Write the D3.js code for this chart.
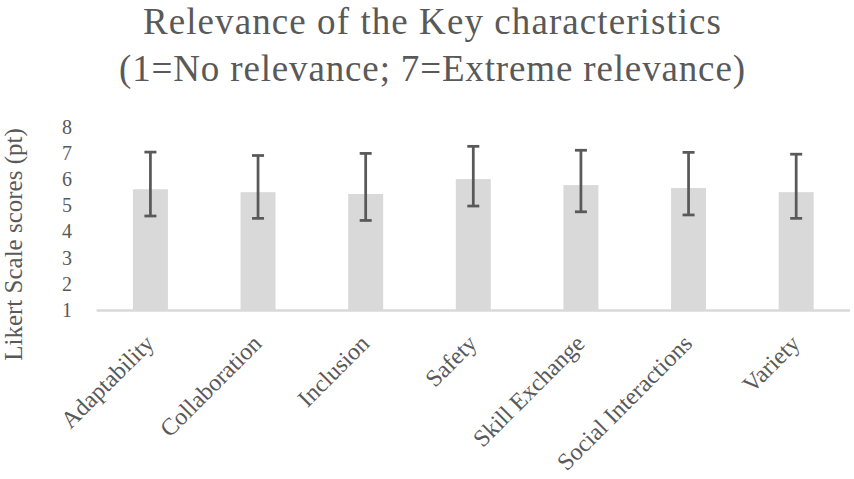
<!DOCTYPE html>
<html>
<head>
<meta charset="utf-8">
<script src="https://cdn.jsdelivr.net/npm/d3@7"></script>
<style>
html,body{margin:0;padding:0;background:#fff;}
svg{display:block;}
</style>
</head>
<body>
<svg id="chart" width="854" height="479"></svg>
<script>
const categories = ["Adaptability","Collaboration","Inclusion","Safety","Skill Exchange","Social Interactions","Variety"];
const means = [5.61, 5.50, 5.43, 6.00, 5.77, 5.66, 5.50];
const errUpper = [7.03, 6.90, 6.98, 7.25, 7.10, 7.02, 6.95];
const errLower = [4.59, 4.50, 4.42, 4.97, 4.75, 4.63, 4.50];
const yTicks = [1,2,3,4,5,6,7,8];
const titleLines = ["Relevance of the Key characteristics","(1=No relevance; 7=Extreme relevance)"];
const yTitle = "Likert Scale scores (pt)";

const font = "'Liberation Serif', 'DejaVu Serif', serif";
const textColor = "#595959";
const svg = d3.select("#chart");

const x = d3.scaleBand().domain(categories).range([96.6, 850]).paddingInner(0.675).paddingOuter(0.3375);
const y = d3.scaleLinear().domain([1, 8]).range([310, 126.7]);

// title
const titleWidths = [578, 626];
svg.append("g").selectAll("text").data(titleLines).join("text")
  .attr("x", 432).attr("y", (d,i)=> 34 + i*47)
  .attr("text-anchor","middle")
  .attr("font-family", font).attr("font-size", 37).attr("fill", textColor)
  .attr("textLength", (d,i)=>titleWidths[i]).attr("lengthAdjust","spacing")
  .text(d=>d);

// y title
svg.append("text")
  .attr("transform","translate(22,244.5) rotate(-90)")
  .attr("text-anchor","middle")
  .attr("font-family", font).attr("font-size", 25).attr("fill", textColor)
  .text(yTitle);

// bars
const data = categories.map((c,i)=>({c, m:means[i], hi:errUpper[i], lo:errLower[i]}));
svg.append("g").selectAll("rect").data(data).join("rect")
  .attr("x", d=>x(d.c)).attr("width", x.bandwidth())
  .attr("y", d=>y(d.m)).attr("height", d=>y(1)-y(d.m))
  .attr("fill", "#d9d9d9");

// baseline
svg.append("line").attr("x1", 96.6).attr("x2", 850).attr("y1", y(1)+0.5).attr("y2", y(1)+0.5)
  .attr("stroke", "#d9d9d9").attr("stroke-width", 2.5);

// y axis (labels only)
const yAxis = d3.axisLeft(y).tickValues(yTicks).tickSize(0).tickPadding(0).tickFormat(d3.format("d"));
const yg = svg.append("g").attr("transform","translate(72,0)").call(yAxis);
yg.select(".domain").remove();
yg.selectAll("text").attr("font-family", font).attr("font-size", 20).attr("fill", textColor);

// x axis labels
const xAxis = d3.axisBottom(x).tickSize(0).tickPadding(0);
const xg = svg.append("g").attr("transform", `translate(0,${y(1)})`).call(xAxis);
xg.select(".domain").remove();
xg.selectAll("text")
  .attr("font-family", font).attr("font-size", 24).attr("fill", textColor)
  .attr("text-anchor","end").attr("dy", null).attr("y", 0).attr("x", 0)
  .attr("transform","translate(5,35) rotate(-45)");

// error bars
const eb = svg.append("g").attr("stroke", "#595959").attr("stroke-width", 2.75);
data.forEach(d=>{
  const cx = x(d.c) + x.bandwidth()/2;
  eb.append("line").attr("x1",cx).attr("x2",cx).attr("y1",y(d.hi)).attr("y2",y(d.lo));
  eb.append("line").attr("x1",cx-6).attr("x2",cx+6).attr("y1",y(d.hi)).attr("y2",y(d.hi));
  eb.append("line").attr("x1",cx-6).attr("x2",cx+6).attr("y1",y(d.lo)).attr("y2",y(d.lo));
});
</script>
</body>
</html>
